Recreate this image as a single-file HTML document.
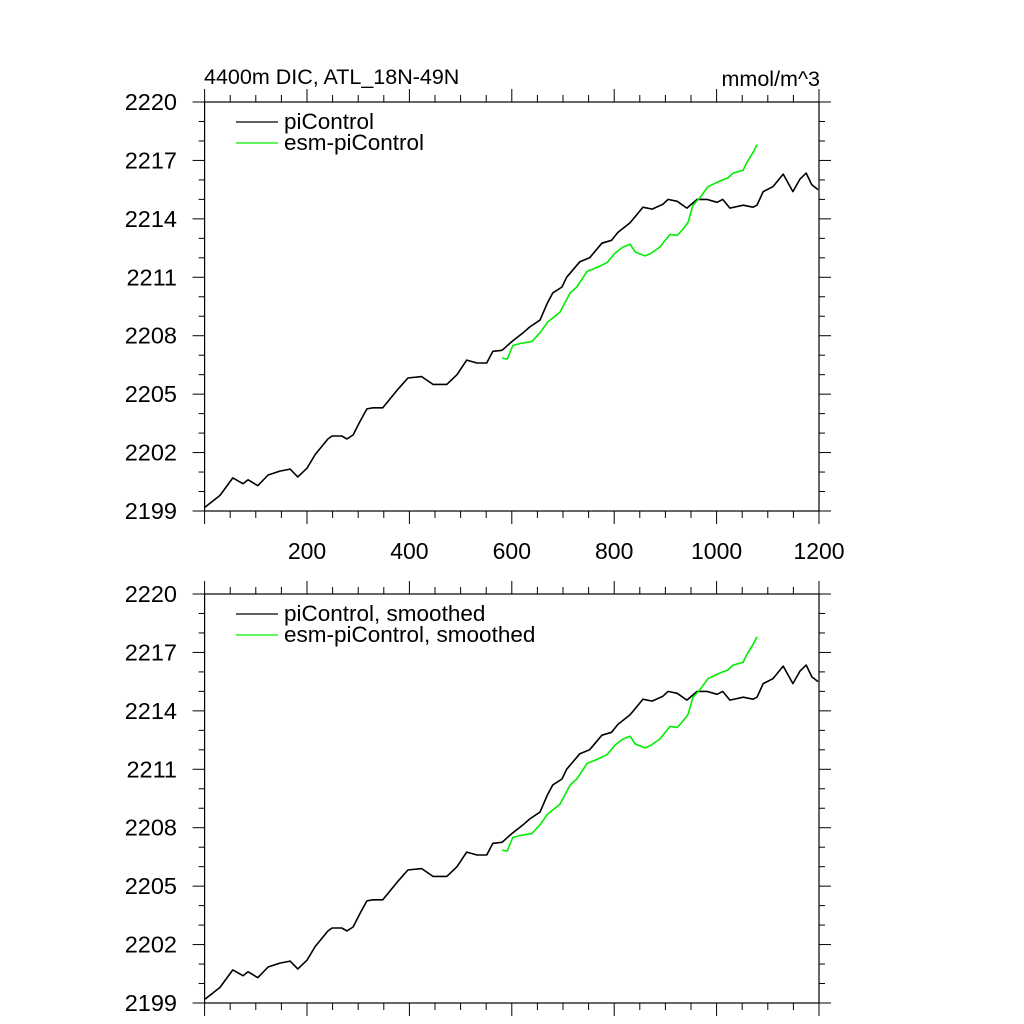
<!DOCTYPE html>
<html><head><meta charset="utf-8"><style>
html,body{margin:0;padding:0;background:#fff;}
svg{display:block;font-family:"Liberation Sans",sans-serif;}
</style></head><body>
<svg id="chart" width="1024" height="1024" viewBox="0 0 1024 1024" xmlns="http://www.w3.org/2000/svg">
<text x="204" y="84" font-size="21.5">4400m DIC, ATL_18N-49N</text>
<text x="820" y="86" font-size="21.5" text-anchor="end">mmol/m^3</text>
</svg>
<script>
const piYears = [1,30,55,75,85,104,124,147,167,182,200,216,241,249,268,278,290,303,317,329,348,376,397,424,446,473,493,512,532,551,563,581,600,622,635,655,670,680,698,707,733,752,776,795,807,831,856,874,895,905,923,942,962,981,1001,1012,1026,1052,1071,1079,1091,1110,1130,1149,1163,1175,1186,1198];
const piValues = [2199.2,2199.8,2200.7,2200.4,2200.6,2200.3,2200.85,2201.05,2201.15,2200.75,2201.2,2201.9,2202.7,2202.85,2202.85,2202.7,2202.9,2203.57,2204.24,2204.3,2204.3,2205.2,2205.83,2205.9,2205.5,2205.5,2206.0,2206.75,2206.6,2206.6,2207.2,2207.25,2207.7,2208.15,2208.45,2208.8,2209.7,2210.2,2210.5,2211.0,2211.8,2212.0,2212.75,2212.9,2213.3,2213.8,2214.6,2214.5,2214.75,2215.0,2214.9,2214.55,2215.0,2215.0,2214.85,2215.0,2214.55,2214.7,2214.6,2214.7,2215.4,2215.65,2216.3,2215.4,2216.05,2216.35,2215.75,2215.5];
const esmYears = [581,591,602,616,639,655,670,694,714,727,747,766,786,802,817,831,841,860,870,889,909,923,932,944,954,968,983,1007,1022,1032,1052,1058,1071,1079];
const esmValues = [2206.85,2206.8,2207.5,2207.6,2207.7,2208.15,2208.7,2209.2,2210.2,2210.5,2211.3,2211.5,2211.75,2212.25,2212.55,2212.7,2212.3,2212.1,2212.2,2212.55,2213.2,2213.15,2213.4,2213.8,2214.7,2215.1,2215.65,2215.95,2216.1,2216.35,2216.5,2216.85,2217.4,2217.8];
const yTickLabels = [2199,2202,2205,2208,2211,2214,2217,2220];
const xTickLabels = [200,400,600,800,1000,1200];

const NS = "http://www.w3.org/2000/svg";
const svg = document.getElementById('chart');
function mk(tag, attrs, parent) {
  const e = document.createElementNS(NS, tag);
  for (const k in attrs) e.setAttribute(k, attrs[k]);
  (parent || svg).appendChild(e);
  return e;
}
const X0 = 204.6, X1 = 819;
function xs(v) { return X0 + v * (X1 - X0) / 1200; }

function panel(top, name, legendLabels, showX) {
  const bottom = top + 409;
  function ys(v) { return bottom - (v - 2199) * 409 / 21; }
  const g = mk('g', {});
  
  
  for (let v = 2199; v <= 2220; v++) {
    const maj = (v - 2199) % 3 === 0, len = maj ? 12 : 6, y = ys(v);
    const t1 = mk('line', {x1: X0 - len, y1: y, x2: X0, y2: y, stroke: '#000', 'stroke-width': 1}, g);
    
    
    const t2 = mk('line', {x1: X1, y1: y, x2: X1 + len, y2: y, stroke: '#000', 'stroke-width': 1}, g);
    
    
  }
  for (let v = 0; v <= 1200; v += 50) {
    const maj = v % 200 === 0, len = maj ? 13 : 7, x = xs(v);
    const t1 = mk('line', {x1: x, y1: bottom, x2: x, y2: bottom + len, stroke: '#000', 'stroke-width': 1}, g);
    
    
    const t2 = mk('line', {x1: x, y1: top - len, x2: x, y2: top, stroke: '#000', 'stroke-width': 1}, g);
    
    
  }
  const fr = mk('rect', {x: X0, y: top, width: X1 - X0, height: 409, fill: 'none', stroke: '#000', 'stroke-width': 1.2}, g);
  
  
  yTickLabels.forEach(v => {
    const t = mk('text', {x: 177, y: ys(v) + 8, 'font-size': 23.5, 'text-anchor': 'end'}, g);
    
    
    t.textContent = v;
  });
  if (showX) xTickLabels.forEach(v => {
    const t = mk('text', {x: xs(v), y: bottom + 48, 'font-size': 23, 'text-anchor': 'middle'}, g);
    
    
    t.textContent = v;
  });
  function series(xv, yv, color, nm) {
    const p = mk('polyline', {points: xv.map((x, i) => xs(x).toFixed(1) + ',' + ys(yv[i]).toFixed(1)).join(' '), fill: 'none', stroke: color, 'stroke-width': 1.6, 'stroke-linejoin': 'round'}, g);
    
    
  }
  series(piYears, piValues, '#000', 'picontrol-line');
  series(esmYears, esmValues, '#00ee00', 'esm-picontrol-line');
  [['#000', legendLabels[0]], ['#00ee00', legendLabels[1]]].forEach((d, i) => {
    const y = top + 20 + i * 21;
    const l = mk('line', {x1: 236, y1: y, x2: 278, y2: y, stroke: d[0], 'stroke-width': 1.3}, g);
    
    
    const t = mk('text', {x: 284, y: y + 7, 'font-size': 22.5}, g);
    
    
    t.textContent = d[1];
  });
}
panel(102, 'top-panel', ['piControl', 'esm-piControl'], true);
panel(594, 'bottom-panel', ['piControl, smoothed', 'esm-piControl, smoothed'], false);
</script>
</body></html>
